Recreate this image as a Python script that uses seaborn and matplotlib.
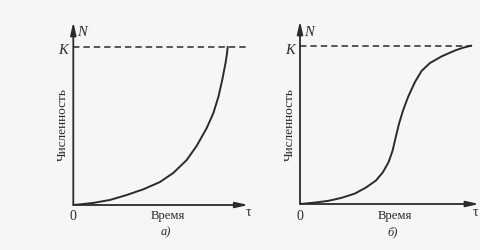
import matplotlib
matplotlib.use("Agg")
import matplotlib.pyplot as plt
import seaborn as sns

# Population size over time: exponential (J-shaped) growth and logistic (S-shaped) growth
K = 100
time_a = [0, 0.38, 1.14, 2.10, 3.05, 4.00, 4.95, 5.71, 6.48, 7.05, 7.62, 8.00, 8.29,
          8.51, 8.70, 8.78, 8.82]
numbers_a = [0, 0.4, 1.3, 3.2, 6.3, 9.9, 14.5, 20.2, 28.4, 37.3, 48.5, 57.9, 68.2,
             78.9, 89.7, 95.4, 99.8]

time_b = [0, 0.86, 1.62, 2.38, 3.14, 3.77, 4.34, 4.74, 5.06, 5.29, 5.47, 5.66, 5.89,
          6.19, 6.57, 6.95, 7.43, 8.10, 8.86, 9.31, 9.79]
numbers_b = [0, 0.9, 2.0, 3.9, 6.6, 10.4, 14.8, 20.1, 26.4, 33.6, 42.1, 50.7, 59.1,
             67.9, 77.0, 84.0, 89.0, 93.2, 96.9, 98.6, 100]

y_label = "Численность"
x_label = "Время"
panel_labels = ["а)", "б)"]

sns.set_style("white")
plt.rcParams["font.family"] = ["Liberation Serif", "DejaVu Serif"]

INK = "#2b2b2b"
PAPER = "#f6f6f4"
W, H = 480, 250

fig = plt.figure(figsize=(4.8, 2.5), dpi=100, facecolor=PAPER)


def make_axes(x0, y0, width, height, xmax):
    ax = fig.add_axes([x0 / W, (H - y0) / H, width / W, height / H])
    ax.set_xlim(0, xmax)
    ax.set_ylim(0, 115.5)
    ax.set_facecolor("none")
    ax.axis("off")
    return ax


def draw_panel(ax, t, n, dash_end, label, ox, oy):
    # axes with arrow heads
    arrow = dict(arrowstyle="-|>,head_width=0.17,head_length=0.75", color=INK,
                 lw=1.3, shrinkA=0, shrinkB=0)
    ax.annotate("", xy=(1, 0), xytext=(0, 0), xycoords="axes fraction", arrowprops=arrow)
    ax.annotate("", xy=(0, 1), xytext=(0, 0), xycoords="axes fraction", arrowprops=arrow)
    # carrying capacity
    ax.plot([0, dash_end], [K, K], color=INK, lw=1.1, ls=(0, (4.2, 2.6)))
    sns.lineplot(x=t, y=n, ax=ax, color=INK, lw=1.4, sort=False, estimator=None,
                 solid_joinstyle="round", solid_capstyle="round")

    def txt(x, y, s, **kw):
        fig.text(x / W, 1 - y / H, s, color=INK, ha="center", va="center", **kw)

    txt(ox + 9, 32, "N", fontsize=10.5, style="italic")
    txt(ox - 10, 50, "K", fontsize=10.5, style="italic")
    txt(ox, 216, "0", fontsize=10)
    txt(ox + 95, 216, x_label, fontsize=9.2)
    txt(ox + 175, 213, "τ", fontsize=10)
    txt(ox + 93, 232, label, fontsize=9, style="italic")
    txt(ox - 10, 125, y_label, fontsize=9.6, rotation=90)


ax_a = make_axes(73.3, 205, 175, 183, 10.0)
draw_panel(ax_a, time_a, numbers_a, 10.0, panel_labels[0], 73.3, 205)

ax_b = make_axes(300, 204, 179, 183, 10.23)
draw_panel(ax_b, time_b, numbers_b, 9.85, panel_labels[1], 300, 204)

fig.savefig("out.png", dpi=100, facecolor=PAPER)
